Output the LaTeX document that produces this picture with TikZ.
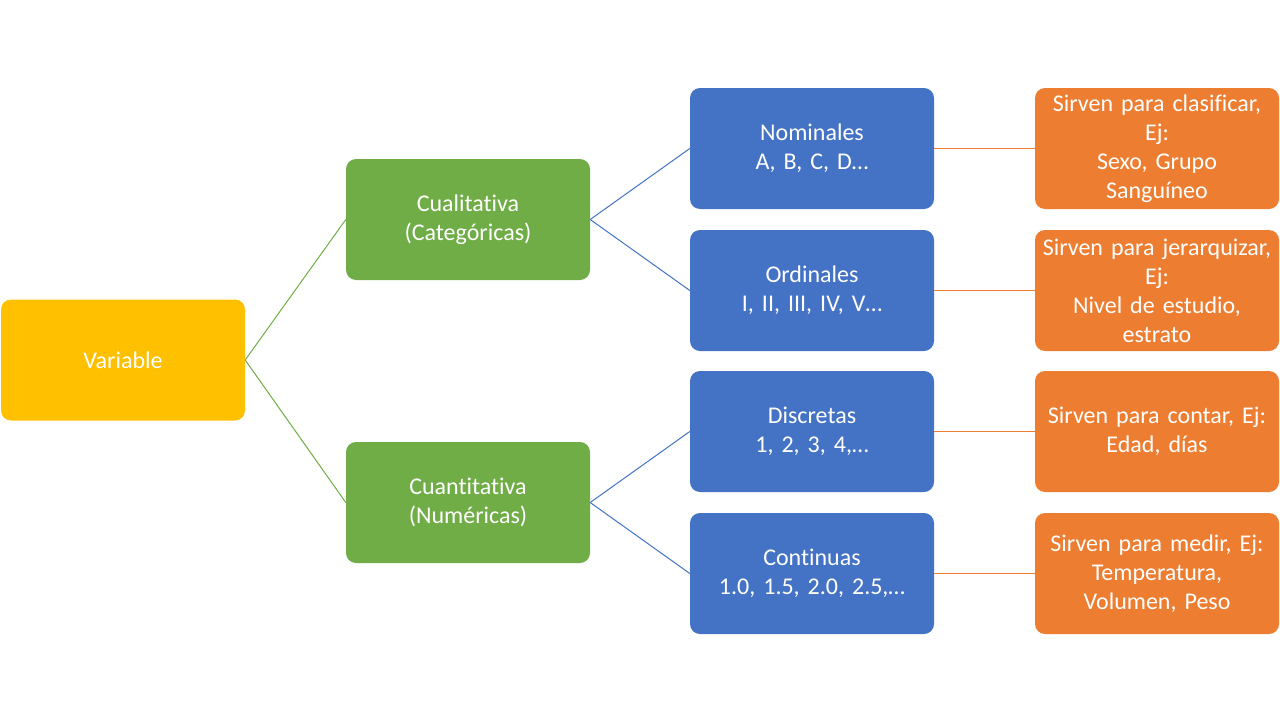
\documentclass[tikz,border=0pt]{standalone}
\usepackage{fontspec}
\setmainfont{Carlito}[RawFeature={-liga;-clig;-calt}, WordSpace=0.85]
\frenchspacing
\definecolor{cyel}{HTML}{FFC000}
\definecolor{cgrn}{HTML}{70AD47}
\definecolor{cblu}{HTML}{4472C4}
\definecolor{corg}{HTML}{ED7D31}
\begin{document}
\begin{tikzpicture}[x=1pt,y=-1pt,
  box/.style={rounded corners=10pt, minimum width=244pt, minimum height=121pt,
    inner sep=0pt, text width=240pt, align=center, text=white,
    font=\fontsize{24}{29}\selectfont},
  ybox/.style={box, fill=cyel},
  gbox/.style={box, fill=cgrn},
  bbox/.style={box, fill=cblu},
  obox/.style={box, fill=corg},
  gline/.style={draw=cgrn, line width=1pt},
  bline/.style={draw=cblu, line width=1pt},
  oline/.style={draw=corg, line width=0.9pt}]
\useasboundingbox (0,0) rectangle (1280,720);
\node[ybox] (var) at (123,360) {Variable};
\node[gbox] (cual) at (468,219.5) {Cualitativa\\(Categóricas)};
\node[gbox] (cuan) at (468,502.5) {Cuantitativa\\(Numéricas)};
\node[bbox] (nom) at (812,148.5) {Nominales\\A, B, C, D…};
\node[bbox] (ord) at (812,290.5) {Ordinales\\I, II, III, IV, V…};
\node[bbox] (dis) at (812,431.5) {Discretas\\1, 2, 3, 4,…};
\node[bbox] (con) at (812,573.5) {Continuas\\1.0, 1.5, 2.0, 2.5,…};
\node[obox] (onom) at (1157,148.5) {Sirven para clasificar,\\Ej:\\Sexo, Grupo\\Sanguíneo};
\node[obox] (oord) at (1157,290.5) {Sirven para jerarquizar,\\Ej:\\Nivel de estudio,\\estrato};
\node[obox] (odis) at (1157,431.5) {Sirven para contar, Ej:\\Edad, días};
\node[obox] (ocon) at (1157,573.5) {Sirven para medir, Ej:\\Temperatura,\\Volumen, Peso};
\draw[gline] (var.east) -- (cual.west);
\draw[gline] (var.east) -- (cuan.west);
\draw[bline] (cual.east) -- (nom.west);
\draw[bline] (cual.east) -- (ord.west);
\draw[bline] (cuan.east) -- (dis.west);
\draw[bline] (cuan.east) -- (con.west);
\draw[oline] (nom.east) -- (onom.west);
\draw[oline] (ord.east) -- (oord.west);
\draw[oline] (dis.east) -- (odis.west);
\draw[oline] (con.east) -- (ocon.west);
\end{tikzpicture}
\end{document}
